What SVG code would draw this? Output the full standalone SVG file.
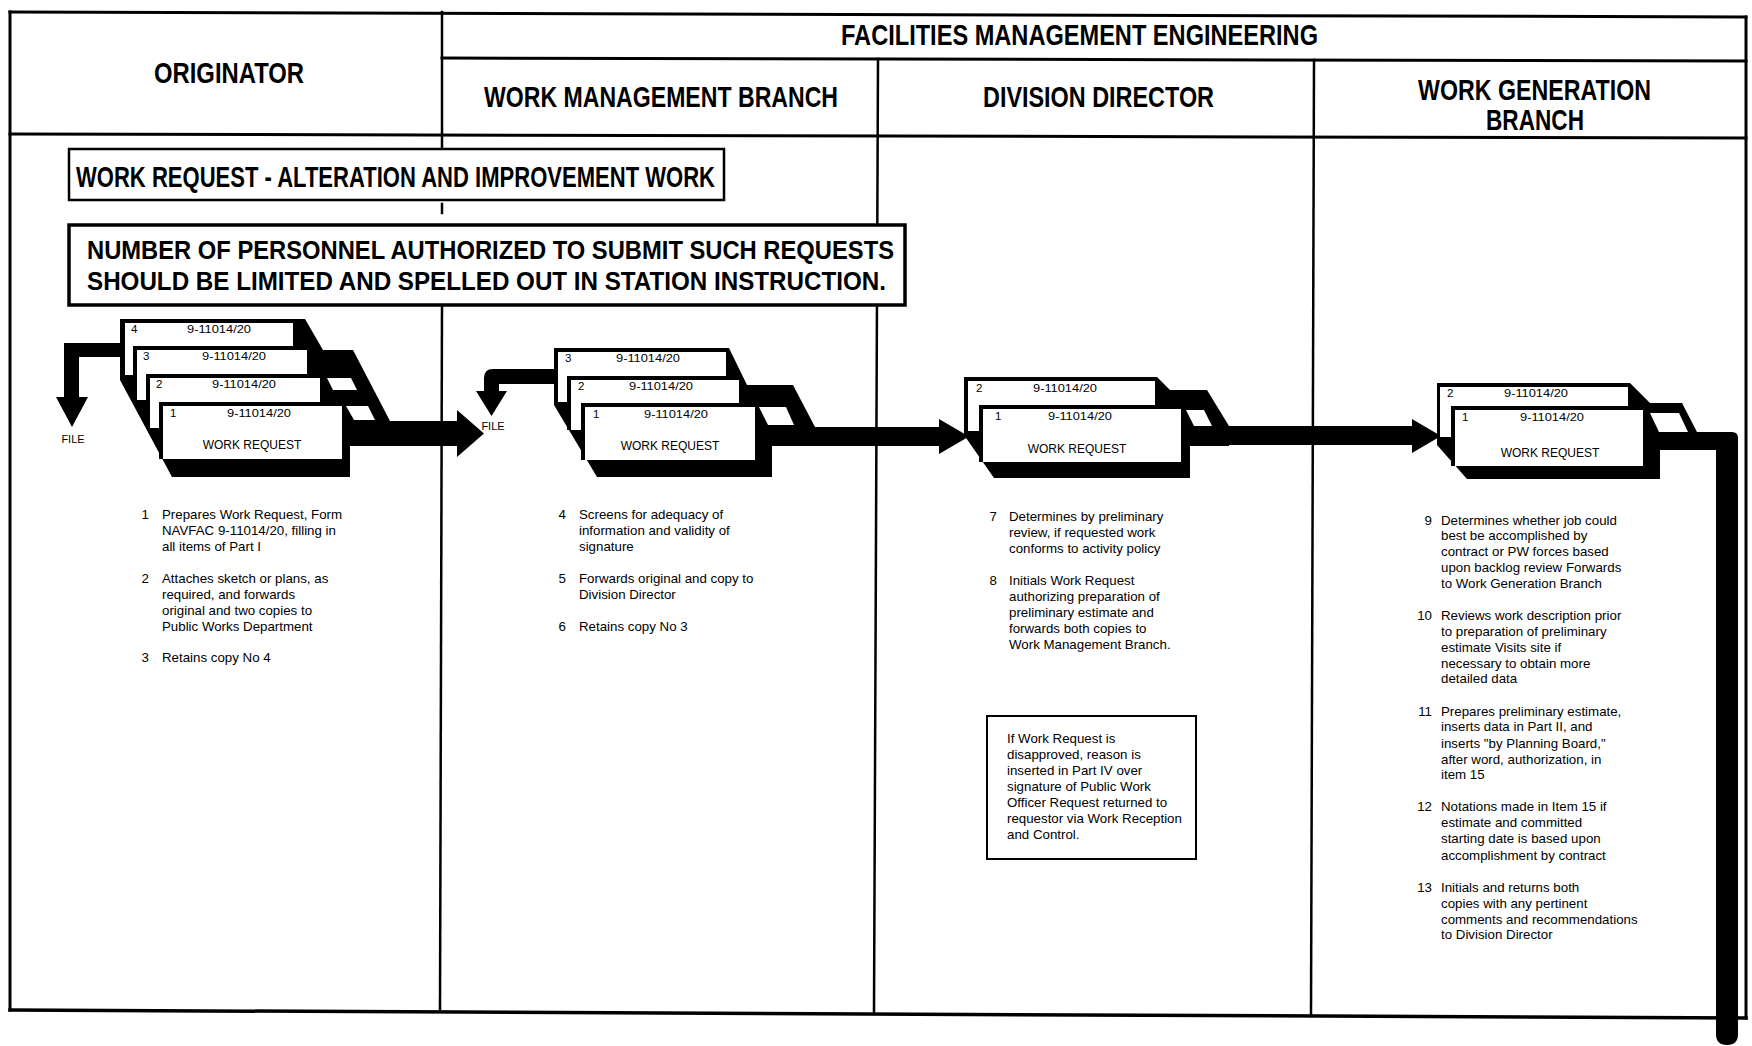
<svg xmlns="http://www.w3.org/2000/svg" width="1752" height="1046" viewBox="0 0 1752 1046">
<style>
.ln{stroke:#000;fill:none;stroke-linecap:square}
.hdr{font-family:"Liberation Sans",Arial,sans-serif;font-weight:bold;font-size:30px;fill:#000}
.big{font-family:"Liberation Sans",Arial,sans-serif;font-weight:bold;font-size:26.5px;fill:#000}
.note{font-family:"Liberation Sans",Arial,sans-serif;font-size:13.3px;fill:#000}
.ct{font-family:"Liberation Sans",Arial,sans-serif;font-size:11.5px;fill:#000}
.wr{font-family:"Liberation Sans",Arial,sans-serif;font-size:12px;fill:#000}
.blk{fill:#000}
.wht{fill:#fff}
.ca{font-family:"Liberation Sans",Arial,sans-serif;font-size:11.5px;fill:#000;text-anchor:middle}
.fl{font-family:"Liberation Sans",Arial,sans-serif;font-size:11px;fill:#000;text-anchor:middle}
</style>
<rect width="1752" height="1046" fill="#fff"/>

<g id="frame">
<line class="ln" x1="10" y1="12" x2="1746" y2="17" stroke-width="3"/>
<line class="ln" x1="10" y1="12" x2="10" y2="1010" stroke-width="3"/>
<line class="ln" x1="1746" y1="17" x2="1746" y2="1018" stroke-width="3"/>
<line class="ln" x1="10" y1="1010" x2="1746" y2="1018" stroke-width="3.5"/>
<line class="ln" x1="442" y1="58" x2="1746" y2="61" stroke-width="3"/>
<line class="ln" x1="10" y1="134" x2="1746" y2="138" stroke-width="3"/>
<line class="ln" x1="442" y1="12" x2="442" y2="149" stroke-width="2.5"/>
<line class="ln" x1="442" y1="204" x2="442" y2="213" stroke-width="2.5"/>
<line class="ln" x1="442" y1="305" x2="440" y2="1010" stroke-width="2.5"/>
<line class="ln" x1="878" y1="59" x2="874" y2="1012" stroke-width="2.5"/>
<line class="ln" x1="1314" y1="60" x2="1311" y2="1016" stroke-width="2.5"/>
</g>

<g id="headers">
<text class="hdr" x="841" y="45" textLength="477" lengthAdjust="spacingAndGlyphs">FACILITIES MANAGEMENT ENGINEERING</text>
<text class="hdr" x="154" y="83" textLength="150" lengthAdjust="spacingAndGlyphs">ORIGINATOR</text>
<text class="hdr" x="484" y="107" textLength="354" lengthAdjust="spacingAndGlyphs">WORK MANAGEMENT BRANCH</text>
<text class="hdr" x="983" y="107" textLength="231" lengthAdjust="spacingAndGlyphs">DIVISION DIRECTOR</text>
<text class="hdr" x="1418" y="100" textLength="233" lengthAdjust="spacingAndGlyphs">WORK GENERATION</text>
<text class="hdr" x="1486" y="130" textLength="98" lengthAdjust="spacingAndGlyphs">BRANCH</text>
</g>

<g id="title-box">
<rect x="69" y="149" width="655" height="51" fill="#fff" stroke="#000" stroke-width="2.5"/>
<text class="hdr" x="76" y="187" textLength="639" lengthAdjust="spacingAndGlyphs">WORK REQUEST - ALTERATION AND IMPROVEMENT WORK</text>
</g>

<g id="note-box">
<rect x="69" y="225" width="836" height="80" fill="#fff" stroke="#000" stroke-width="3.5"/>
<text class="big" x="87" y="259" textLength="807" lengthAdjust="spacingAndGlyphs">NUMBER OF PERSONNEL AUTHORIZED TO SUBMIT SUCH REQUESTS</text>
<text class="big" x="87" y="290" textLength="799" lengthAdjust="spacingAndGlyphs">SHOULD BE LIMITED AND SPELLED OUT IN STATION INSTRUCTION.</text>
</g>

<g id="connectors">
<path class="blk" d="M125,343 L64,343 L64,399 L79,399 L79,357 L125,357 Z"/>
<polygon class="blk" points="56,397 88,397 72,427"/>
<text class="fl" x="73" y="443">FILE</text>
<rect class="blk" x="385" y="421" width="76" height="25"/>
<polygon class="blk" points="457,410 457,457 484,433.5"/>
<path class="blk" d="M558,369 L493,369 Q484,369 484,378 L484,393 L499,393 L499,384 L558,384 Z"/>
<polygon class="blk" points="476,391 507,391 491.5,416"/>
<text class="fl" x="493" y="430">FILE</text>
<rect class="blk" x="808" y="427" width="134" height="19"/>
<polygon class="blk" points="939,419 939,454 969,436.5"/>
<rect class="blk" x="1220" y="426" width="196" height="19"/>
<polygon class="blk" points="1412,419 1412,453 1441,436"/>
<path class="blk" d="M1690,432 L1732,432 Q1738,432 1738,438 L1738,1034 Q1738,1045 1727,1045 Q1716,1045 1716,1034 L1716,450 L1690,450 Z"/>
</g>

<g id="stack-originator">
<path class="blk" d="M120,319 L305,319 L323,350 L353,350 L390,421 L390,446 L350,446 L350,477 L172,477 L120,380 Z"/>
<polygon class="wht" points="327,378 351,378 357,390 333,390"/>
<polygon class="wht" points="346,406 368,406 375,420 354,420"/>
<rect class="wht" x="125" y="323" width="168" height="52"/>
<text class="ct" x="131" y="333">4</text><text class="ca" x="219" y="333" textLength="64" lengthAdjust="spacingAndGlyphs">9-11014/20</text>
<rect class="blk" x="133" y="346" width="174" height="54"/>
<rect class="wht" x="137" y="350" width="170" height="50"/>
<text class="ct" x="143" y="360">3</text><text class="ca" x="234" y="360" textLength="64" lengthAdjust="spacingAndGlyphs">9-11014/20</text>
<rect class="blk" x="146" y="374" width="174" height="54"/>
<rect class="wht" x="150" y="378" width="170" height="50"/>
<text class="ct" x="156" y="388">2</text><text class="ca" x="244" y="388" textLength="64" lengthAdjust="spacingAndGlyphs">9-11014/20</text>
<rect class="blk" x="159" y="402" width="183" height="57"/>
<rect class="wht" x="163" y="406" width="179" height="53"/>
<text class="ct" x="170" y="417">1</text><text class="ca" x="259" y="417" textLength="64" lengthAdjust="spacingAndGlyphs">9-11014/20</text>
<text class="wr" x="252" y="449" text-anchor="middle">WORK REQUEST</text>
</g>

<g id="stack-wmb">
<path class="blk" d="M554,348 L729,348 L747,385 L793,385 L815,427 L815,446 L772,446 L772,477 L597,477 L554,405 Z"/>
<polygon class="wht" points="759,407 786,407 794,425 768,425"/>
<rect class="wht" x="558" y="352" width="168" height="50"/>
<text class="ct" x="565" y="362">3</text><text class="ca" x="648" y="362" textLength="64" lengthAdjust="spacingAndGlyphs">9-11014/20</text>
<rect class="blk" x="567" y="376" width="172" height="54"/>
<rect class="wht" x="571" y="380" width="168" height="50"/>
<text class="ct" x="578" y="390">2</text><text class="ca" x="661" y="390" textLength="64" lengthAdjust="spacingAndGlyphs">9-11014/20</text>
<rect class="blk" x="581" y="403" width="174" height="57"/>
<rect class="wht" x="585" y="407" width="170" height="53"/>
<text class="ct" x="593" y="418">1</text><text class="ca" x="676" y="418" textLength="64" lengthAdjust="spacingAndGlyphs">9-11014/20</text>
<text class="wr" x="670" y="450" text-anchor="middle">WORK REQUEST</text>
</g>

<g id="stack-dd">
<path class="blk" d="M964,377 L1157,377 L1170,390 L1207,390 L1229,426 L1229,446 L1190,446 L1190,478 L994,478 L964,435 Z"/>
<polygon class="wht" points="1186,410 1204,410 1212,426 1194,426"/>
<rect class="wht" x="968" y="381" width="187" height="50"/>
<text class="ct" x="976" y="392">2</text><text class="ca" x="1065" y="392" textLength="64" lengthAdjust="spacingAndGlyphs">9-11014/20</text>
<rect class="blk" x="979" y="405" width="202" height="57"/>
<rect class="wht" x="983" y="409" width="198" height="53"/>
<text class="ct" x="995" y="420">1</text><text class="ca" x="1080" y="420" textLength="64" lengthAdjust="spacingAndGlyphs">9-11014/20</text>
<text class="wr" x="1077" y="453" text-anchor="middle">WORK REQUEST</text>
</g>

<g id="stack-wgb">
<path class="blk" d="M1437,383 L1630,383 L1650,403 L1682,403 L1697,432 L1716,432 L1716,450 L1660,450 L1660,479 L1467,479 L1437,445 Z"/>
<polygon class="wht" points="1650,413 1679,413 1688,432 1659,432"/>
<rect class="wht" x="1440" y="387" width="188" height="50"/>
<text class="ct" x="1447" y="397">2</text><text class="ca" x="1536" y="397" textLength="64" lengthAdjust="spacingAndGlyphs">9-11014/20</text>
<rect class="blk" x="1451" y="406" width="192" height="60"/>
<rect class="wht" x="1455" y="410" width="188" height="56"/>
<text class="ct" x="1462" y="421">1</text><text class="ca" x="1552" y="421" textLength="64" lengthAdjust="spacingAndGlyphs">9-11014/20</text>
<text class="wr" x="1550" y="457" text-anchor="middle">WORK REQUEST</text>
</g>

<g id="steps-originator" class="note">
<text x="149" y="519" text-anchor="end">1</text>
<text x="162" y="519">Prepares Work Request, Form</text>
<text x="162" y="535">NAVFAC 9-11014/20, filling in</text>
<text x="162" y="551">all items of Part I</text>
<text x="149" y="583" text-anchor="end">2</text>
<text x="162" y="583">Attaches sketch or plans, as</text>
<text x="162" y="599">required, and forwards</text>
<text x="162" y="615">original and two copies to</text>
<text x="162" y="631">Public Works Department</text>
<text x="149" y="662" text-anchor="end">3</text>
<text x="162" y="662">Retains copy No 4</text>
</g>

<g id="steps-wmb" class="note">
<text x="566" y="519" text-anchor="end">4</text>
<text x="579" y="519">Screens for adequacy of</text>
<text x="579" y="535">information and validity of</text>
<text x="579" y="551">signature</text>
<text x="566" y="583" text-anchor="end">5</text>
<text x="579" y="583">Forwards original and copy to</text>
<text x="579" y="599">Division Director</text>
<text x="566" y="631" text-anchor="end">6</text>
<text x="579" y="631">Retains copy No 3</text>
</g>

<g id="steps-dd" class="note">
<text x="997" y="521" text-anchor="end">7</text>
<text x="1009" y="521">Determines by preliminary</text>
<text x="1009" y="537">review, if requested work</text>
<text x="1009" y="553">conforms to activity policy</text>
<text x="997" y="585" text-anchor="end">8</text>
<text x="1009" y="585">Initials Work Request</text>
<text x="1009" y="601">authorizing preparation of</text>
<text x="1009" y="617">preliminary estimate and</text>
<text x="1009" y="633">forwards both copies to</text>
<text x="1009" y="649">Work Management Branch.</text>
</g>

<g id="disapproval-box">
<rect x="987" y="716" width="209" height="143" fill="#fff" stroke="#000" stroke-width="2"/>
<g class="note">
<text x="1007" y="743">If Work Request is</text>
<text x="1007" y="759">disapproved, reason is</text>
<text x="1007" y="775">inserted in Part IV over</text>
<text x="1007" y="791">signature of Public Work</text>
<text x="1007" y="807">Officer  Request returned to</text>
<text x="1007" y="823">requestor via Work Reception</text>
<text x="1007" y="839">and Control.</text>
</g>
</g>

<g id="steps-wgb" class="note">
<text x="1432" y="525" text-anchor="end">9</text>
<text x="1441" y="525">Determines whether job could</text>
<text x="1441" y="540">best be accomplished by</text>
<text x="1441" y="556">contract or PW forces based</text>
<text x="1441" y="572">upon backlog review  Forwards</text>
<text x="1441" y="588">to Work Generation Branch</text>
<text x="1432" y="620" text-anchor="end">10</text>
<text x="1441" y="620">Reviews work description prior</text>
<text x="1441" y="636">to preparation of preliminary</text>
<text x="1441" y="652">estimate  Visits site if</text>
<text x="1441" y="668">necessary to obtain more</text>
<text x="1441" y="683">detailed data</text>
<text x="1432" y="716" text-anchor="end">11</text>
<text x="1441" y="716">Prepares preliminary estimate,</text>
<text x="1441" y="731">inserts data in Part II, and</text>
<text x="1441" y="748">inserts "by Planning Board,"</text>
<text x="1441" y="764">after word, authorization, in</text>
<text x="1441" y="779">item 15</text>
<text x="1432" y="811" text-anchor="end">12</text>
<text x="1441" y="811">Notations made in Item 15 if</text>
<text x="1441" y="827">estimate and committed</text>
<text x="1441" y="843">starting date is based upon</text>
<text x="1441" y="860">accomplishment by contract</text>
<text x="1432" y="892" text-anchor="end">13</text>
<text x="1441" y="892">Initials and returns both</text>
<text x="1441" y="908">copies with any pertinent</text>
<text x="1441" y="924">comments and recommendations</text>
<text x="1441" y="939">to Division Director</text>
</g>
</svg>
